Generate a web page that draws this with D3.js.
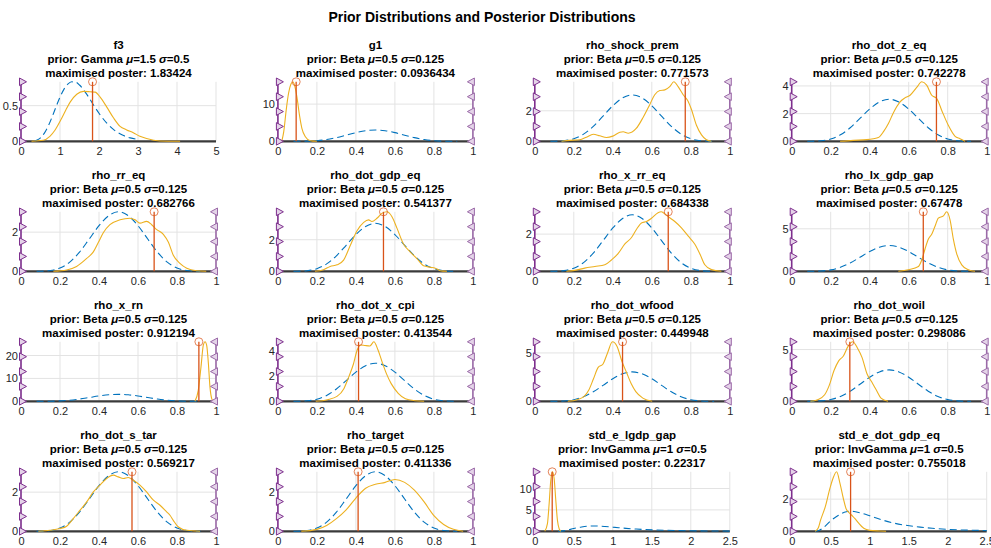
<!DOCTYPE html>
<html><head><meta charset="utf-8">
<script src="https://cdn.jsdelivr.net/npm/d3@7"></script>
<style>
body{margin:0;background:#fff}
svg{display:block}
text{font-family:"Liberation Sans",Arial,Helvetica,sans-serif}
</style>
</head><body>
<svg id="chart" width="991" height="548"></svg>
<script>
// ---------------- DATA ----------------
const chartTitle = "Prior Distributions and Posterior Distributions";
const names = ["f3","g1","rho_shock_prem","rho_dot_z_eq",
  "rho_rr_eq","rho_dot_gdp_eq","rho_x_rr_eq","rho_lx_gdp_gap",
  "rho_x_rn","rho_dot_x_cpi","rho_dot_wfood","rho_dot_woil",
  "rho_dot_s_tar","rho_target","std_e_lgdp_gap","std_e_dot_gdp_eq"];
const priorShapes = ["Gamma","Beta","Beta","Beta","Beta","Beta","Beta","Beta",
  "Beta","Beta","Beta","Beta","Beta","Beta","InvGamma","InvGamma"];
const priorMeans = ["1.5","0.5","0.5","0.5","0.5","0.5","0.5","0.5",
  "0.5","0.5","0.5","0.5","0.5","0.5","1","1"];
const priorStds = ["0.5","0.125","0.125","0.125","0.125","0.125","0.125","0.125",
  "0.125","0.125","0.125","0.125","0.125","0.125","0.5","0.5"];
const modes = [1.83424,0.0936434,0.771573,0.742278,
  0.682766,0.541377,0.684338,0.67478,
  0.912194,0.413544,0.449948,0.298086,
  0.569217,0.411336,0.22317,0.755018];
const xMaxes = [5,1,1,1, 1,1,1,1, 1,1,1,1, 1,1,2.5,2.5];
const ticksGamma = [0,1,2,3,4,5];
const ticksUnit = [0,0.2,0.4,0.6,0.8,1];
const ticksStd = [0,0.5,1,1.5,2,2.5];
const yTicksList = [[0,0.5],[0,10],[0,2],[0,2,4],
  [0,2],[0,2],[0,2],[0,5],
  [0,10,20],[0,2,4],[0,5],[0,5],
  [0,2],[0,2],[0,5,10],[0,2]];
const upperBounded = [false,true,true,true, true,true,true,true,
  true,true,true,true, true,true,false,false];

// prior densities
const priorGamma = [[0.35,0.005],[0.4,0.015],[0.5,0.049],[0.6,0.115],[0.7,0.216],[0.8,0.345],[0.9,0.486],
  [1.0,0.62],[1.1,0.729],[1.2,0.802],[1.3,0.835],[1.4,0.83],[1.5,0.79],[1.6,0.727],[1.7,0.648],
  [1.8,0.562],[1.9,0.475],[2.0,0.393],[2.2,0.254],[2.4,0.153],[2.6,0.088],[2.8,0.048],[3.0,0.025]];
const priorBeta = [[0.08,0.001],[0.1,0.004],[0.15,0.038],[0.2,0.167],[0.25,0.47],[0.3,0.98],[0.35,1.65],
  [0.4,2.33],[0.45,2.84],[0.5,3.04],[0.55,2.84],[0.6,2.33],[0.65,1.65],[0.7,0.98],[0.75,0.47],
  [0.8,0.167],[0.85,0.038],[0.9,0.004],[0.92,0.001]];
const priorInvGamma = [[0.3,0],[0.34,0.03],[0.4,0.2],[0.5,0.65],[0.6,1.0],[0.7,1.22],[0.75,1.25],
  [0.8,1.23],[0.9,1.12],[1.0,0.97],[1.17,0.69],[1.3,0.52],[1.56,0.31],[1.8,0.19],[2.0,0.12],
  [2.2,0.08],[2.5,0.045]];

// posterior densities
const post_f3 = [[0.27,0],[0.57,0.014],[0.74,0.07],[0.87,0.155],[1.04,0.32],[1.15,0.44],[1.26,0.55],
  [1.43,0.66],[1.6,0.70],[1.77,0.695],[1.9,0.69],[2.03,0.62],[2.2,0.48],[2.37,0.33],[2.54,0.21],
  [2.71,0.16],[2.88,0.12],[3.05,0.07],[3.22,0.038],[3.56,0.005],[4.08,0]];
const post_g1 = [[0.02,0],[0.03,2.6],[0.043,8.6],[0.055,13],[0.067,15.4],[0.077,16],[0.085,15.1],
  [0.097,12.1],[0.111,6.9],[0.123,3.5],[0.14,1.3],[0.166,0.17],[0.2,0]];
const post_shock_prem = [[0.137,0],[0.18,0.06],[0.23,0.1],[0.265,0.27],[0.30,0.46],[0.333,0.36],
  [0.368,0.25],[0.40,0.34],[0.436,0.59],[0.453,0.63],[0.479,0.53],[0.52,0.84],[0.556,1.58],
  [0.59,2.42],[0.615,3.05],[0.641,3.33],[0.667,3.37],[0.692,3.58],[0.713,3.9],[0.735,3.58],
  [0.761,3.05],[0.786,2.63],[0.803,2.1],[0.829,1.05],[0.855,0.42],[0.88,0.1],[0.906,0]];
const post_dot_z_eq = [[0.248,0],[0.316,0.07],[0.385,0.12],[0.419,0.19],[0.444,0.27],[0.47,0.68],
  [0.496,1.28],[0.521,2.05],[0.556,2.85],[0.581,3.14],[0.607,3.33],[0.641,3.89],[0.667,4.3],
  [0.692,4.06],[0.718,3.33],[0.744,3.09],[0.769,2.25],[0.803,1.16],[0.838,0.36],[0.863,0.19],[0.889,0]];
const post_rr_eq = [[0.166,0],[0.234,0.07],[0.285,0.25],[0.337,0.66],[0.371,0.99],[0.397,1.48],
  [0.422,1.97],[0.456,2.38],[0.508,2.63],[0.559,2.71],[0.585,2.63],[0.61,2.46],[0.644,2.55],
  [0.67,2.38],[0.696,2.13],[0.73,1.89],[0.756,1.48],[0.781,0.82],[0.815,0.41],[0.85,0.16],[0.9,0.03],[0.95,0]];
const post_dot_gdp_eq = [[0.19,0],[0.234,0.1],[0.268,0.31],[0.303,0.41],[0.337,0.71],[0.371,1.63],
  [0.405,2.55],[0.44,3.1],[0.465,3.26],[0.482,3.16],[0.508,3.36],[0.533,3.67],[0.559,3.77],
  [0.585,3.46],[0.61,2.75],[0.644,1.73],[0.679,1.22],[0.713,0.81],[0.747,0.35],[0.781,0.26],
  [0.807,0.2],[0.832,0.04],[0.867,0]];
const post_x_rr_eq = [[0.162,0],[0.205,0.05],[0.256,0.17],[0.308,0.26],[0.359,0.35],[0.393,0.61],
  [0.427,0.95],[0.462,1.47],[0.496,1.82],[0.521,2.25],[0.547,2.6],[0.573,2.68],[0.598,2.85],
  [0.632,3.15],[0.648,3.2],[0.665,3.1],[0.684,2.94],[0.718,2.68],[0.752,2.34],[0.786,1.9],[0.82,1.47],
  [0.846,0.95],[0.872,0.35],[0.906,0.09],[0.957,0]];
const post_lx_gdp_gap = [[0.547,0],[0.598,0.19],[0.65,0.57],[0.667,1.33],[0.684,2.65],[0.701,3.79],
  [0.718,4.36],[0.735,5.3],[0.752,6.25],[0.778,6.52],[0.795,7.0],[0.812,6.06],[0.829,3.79],
  [0.846,2.08],[0.872,0.76],[0.906,0.19],[0.94,0]];
const post_x_rn = [[0.892,0],[0.909,4.8],[0.923,15],[0.935,24.5],[0.944,26],[0.952,24.5],
  [0.961,16.5],[0.969,6.3],[0.978,1.2],[0.986,0]];
const post_dot_x_cpi = [[0.194,0],[0.254,0.13],[0.303,0.39],[0.339,1.03],[0.363,1.93],[0.387,2.96],
  [0.407,4.11],[0.424,4.5],[0.448,4.45],[0.472,4.42],[0.492,4.75],[0.513,4.11],[0.533,3.21],
  [0.557,2.19],[0.581,1.41],[0.617,0.64],[0.654,0.21],[0.702,0.05],[0.75,0]];
const post_dot_wfood = [[0.169,0],[0.217,0.17],[0.253,0.5],[0.277,1.17],[0.301,2.33],[0.325,3.5],
  [0.349,3.83],[0.373,5.0],[0.398,6.15],[0.422,5.67],[0.446,4.17],[0.47,3.0],[0.494,1.83],
  [0.518,1.0],[0.554,0.33],[0.602,0]];
const post_dot_woil = [[0.096,0],[0.133,0.16],[0.169,0.63],[0.193,1.56],[0.217,2.97],[0.241,3.91],
  [0.265,4.38],[0.289,5.31],[0.313,5.75],[0.337,5.16],[0.361,4.22],[0.386,2.66],[0.41,1.88],
  [0.434,1.09],[0.458,0.31],[0.494,0]];
const post_dot_s_tar = [[0.089,0],[0.149,0.05],[0.2,0.14],[0.234,0.26],[0.268,0.65],[0.303,1.08],
  [0.337,1.5],[0.371,2.01],[0.405,2.36],[0.439,2.7],[0.474,2.87],[0.499,2.78],[0.525,2.7],
  [0.55,2.75],[0.576,2.61],[0.61,2.36],[0.644,2.01],[0.679,1.59],[0.713,1.33],[0.747,0.99],
  [0.764,0.82],[0.781,0.56],[0.807,0.22],[0.85,0.05],[0.918,0]];
const post_target = [[0.12,0],[0.2,0.1],[0.25,0.3],[0.3,0.65],[0.35,1.1],[0.4,1.7],[0.45,2.2],
  [0.5,2.4],[0.55,2.5],[0.6,2.65],[0.65,2.5],[0.7,2.1],[0.75,1.5],[0.8,0.8],[0.85,0.35],[0.9,0.1],[0.95,0]];
const post_lgdp_gap = [[0.128,0],[0.162,1.8],[0.184,6.5],[0.205,12],[0.226,13.9],[0.248,12.3],
  [0.269,7.3],[0.29,2.6],[0.312,0.6],[0.333,0]];
const post_dot_gdp_eq_std = [[0.30,0],[0.34,0.2],[0.37,0.69],[0.43,1.52],[0.49,2.67],[0.53,3.3],
  [0.576,3.7],[0.619,2.98],[0.662,2.04],[0.696,1.42],[0.747,1.1],[0.78,0.95],[0.811,0.79],
  [0.85,0.55],[0.897,0.3],[0.95,0.12],[1.0,0.06],[1.13,0.02],[1.21,0]];

const posteriors = [post_f3,post_g1,post_shock_prem,post_dot_z_eq,
  post_rr_eq,post_dot_gdp_eq,post_x_rr_eq,post_lx_gdp_gap,
  post_x_rn,post_dot_x_cpi,post_dot_wfood,post_dot_woil,
  post_dot_s_tar,post_target,post_lgdp_gap,post_dot_gdp_eq_std];

// ---------------- DRAW ----------------
const priorByShape = {Gamma: priorGamma, Beta: priorBeta, InvGamma: priorInvGamma};
const xTicksByShape = {Gamma: ticksGamma, Beta: ticksUnit, InvGamma: ticksStd};

const svg = d3.select("#chart");
svg.append("rect").attr("width",991).attr("height",548).attr("fill","#fff");

svg.append("text").attr("x",482).attr("y",22).attr("text-anchor","middle")
  .attr("font-size","14px").attr("font-weight","bold").attr("fill","#000").text(chartTitle);

const colLeft = 21, colStep = 256.9, plotW = 195;
const rowZero = 141.3, rowStep = 130, plotH = 59.5;

const C_PRIOR = "#0072BD", C_POST = "#EDB120", C_MODE = "#D95319", C_BOUND = "#7E2F8E";

names.forEach((name, i) => {
  const col = i % 4, row = Math.floor(i / 4);
  const left = colLeft + col * colStep;
  const zero = rowZero + row * rowStep;
  const shape = priorShapes[i];
  const xMax = xMaxes[i];
  const prior = priorByShape[shape].filter(d => d[0] <= xMax);
  const post = posteriors[i];
  const yMax = d3.max(prior.concat(post), d => d[1]);

  const x = d3.scaleLinear().domain([0, xMax]).range([left, left + plotW]);
  const y = d3.scaleLinear().domain([0, yMax]).range([zero, zero - plotH]);
  const g = svg.append("g");

  // grid
  const xt = xTicksByShape[shape];
  g.selectAll(".gx").data(xt).join("line")
    .attr("x1", d => x(d)).attr("x2", d => x(d)).attr("y1", y(0)).attr("y2", y(yMax))
    .attr("stroke", "#e3e3e3").attr("stroke-width", 1);
  g.selectAll(".gy").data(yTicksList[i]).join("line")
    .attr("x1", x(0)).attr("x2", x(xMax)).attr("y1", d => y(d)).attr("y2", d => y(d))
    .attr("stroke", "#e3e3e3").attr("stroke-width", 1);

  // axes labels
  const ax = g.append("g").attr("transform", `translate(0,${zero})`)
    .call(d3.axisBottom(x).tickValues(xt).tickSize(0).tickPadding(6).tickFormat(d => String(d)));
  ax.select(".domain").remove();
  ax.selectAll("text").attr("font-size", "11px").attr("fill", "#262626")
    .style("font-family", '"Liberation Sans",Arial,sans-serif');
  const ay = g.append("g").attr("transform", `translate(${left},0)`)
    .call(d3.axisLeft(y).tickValues(yTicksList[i]).tickSize(0).tickPadding(3).tickFormat(d => String(d)));
  ay.select(".domain").remove();
  ay.selectAll("text").attr("font-size", "11px").attr("fill", "#262626")
    .style("font-family", '"Liberation Sans",Arial,sans-serif');

  // zero axis line
  g.append("line").attr("x1", x(0)).attr("x2", x(xMax)).attr("y1", y(0)).attr("y2", y(0))
    .attr("stroke", "#3a3a3a").attr("stroke-width", 2.2);

  const line = d3.line().x(d => x(d[0])).y(d => y(d[1])).curve(d3.curveMonotoneX);
  g.append("path").attr("d", line(prior)).attr("fill", "none")
    .attr("stroke", C_PRIOR).attr("stroke-width", 1.1).attr("stroke-dasharray", "7,4");
  g.append("path").attr("d", line(post)).attr("fill", "none")
    .attr("stroke", C_POST).attr("stroke-width", 1.1);

  // mode
  g.append("line").attr("x1", x(modes[i])).attr("x2", x(modes[i])).attr("y1", y(0)).attr("y2", y(yMax))
    .attr("stroke", C_MODE).attr("stroke-width", 1.3);
  g.append("circle").attr("cx", x(modes[i])).attr("cy", y(yMax)).attr("r", 4)
    .attr("fill", "none").attr("stroke", C_MODE).attr("stroke-width", 0.9).attr("opacity", 0.8);

  // bounds
  const marks = d3.range(5).map(k => yMax * k / 4);
  const drawBound = (bx, dir, color) => {
    g.append("line").attr("x1", x(bx)).attr("x2", x(bx)).attr("y1", y(0)).attr("y2", y(yMax))
      .attr("stroke", color).attr("stroke-width", 1.6);
    g.selectAll(null).data(marks).join("path")
      .attr("transform", d => `translate(${x(bx) + dir * 1.5},${y(d)})`)
      .attr("d", dir > 0 ? "M-3,-3.8L4,0L-3,3.8Z" : "M3,-3.8L-4,0L3,3.8Z")
      .attr("fill", "#e4d3e8").attr("stroke", color).attr("stroke-width", 1);
  };
  drawBound(0, 1, C_BOUND);
  if (upperBounded[i]) drawBound(xMax, -1, "#9b6aa8");

  // title
  const cx = left + plotW / 2, top = zero - plotH;
  const t = g.append("text").attr("text-anchor", "middle").attr("font-size", "11.5px")
    .attr("font-weight", "bold").attr("fill", "#000");
  t.append("tspan").attr("x", cx).attr("y", top - 32.5).text(name);
  const t2 = t.append("tspan").attr("x", cx).attr("y", top - 18.5);
  t2.append("tspan").text("prior: " + shape + " ");
  t2.append("tspan").attr("font-style", "italic").text("\u03bc");
  t2.append("tspan").text("=" + priorMeans[i] + " ");
  t2.append("tspan").attr("font-style", "italic").text("\u03c3");
  t2.append("tspan").text("=" + priorStds[i]);
  t.append("tspan").attr("x", cx).attr("y", top - 4.5).text("maximised poster: " + String(modes[i]));
});
</script>
</body></html>
